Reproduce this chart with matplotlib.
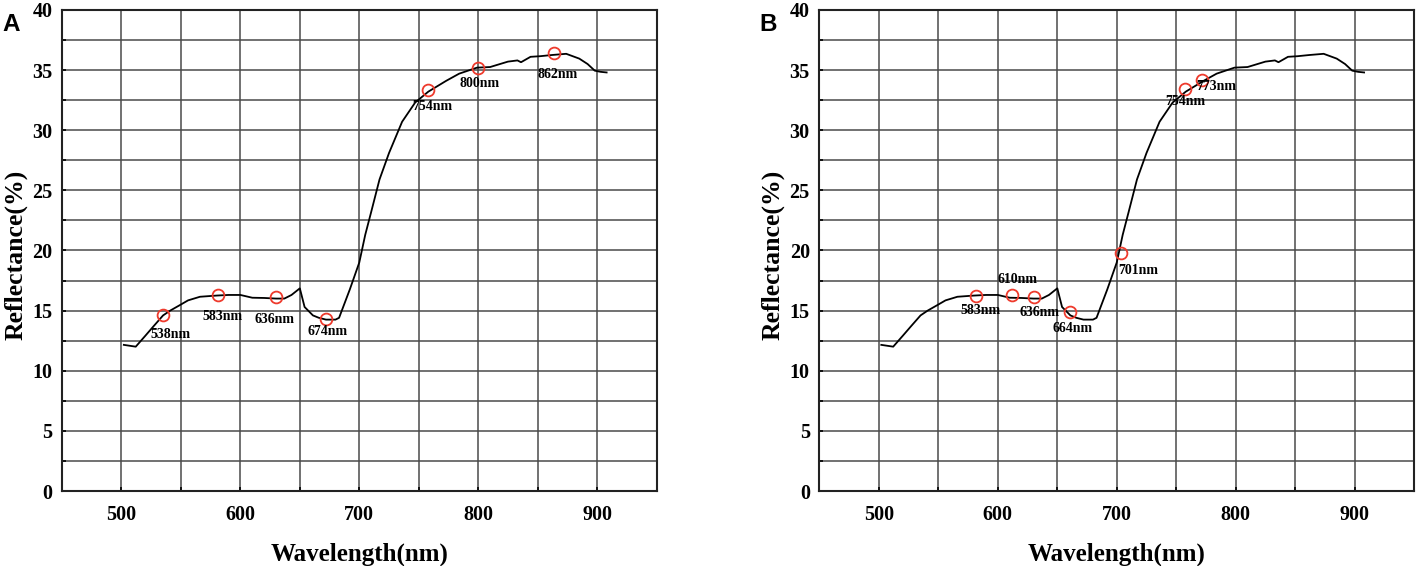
import numpy as np
import matplotlib
matplotlib.use("Agg")
import matplotlib.pyplot as plt
from matplotlib.ticker import MultipleLocator

# ====== DATA ======
wavelength = [502, 512, 520, 527, 535, 541, 549, 556, 566, 580, 590, 600, 610,
              620, 630, 637, 643, 650, 654, 661, 666, 672, 680, 683, 692, 700,
              705, 710, 717, 725, 736, 747, 758, 773, 784, 799, 810, 825, 833,
              836, 844, 852, 862, 874, 885, 892, 898, 903, 908]
reflectance = [12.15, 12.0, 12.9, 13.7, 14.6, 15.0, 15.45, 15.85, 16.15, 16.25,
               16.3, 16.3, 16.07, 16.05, 16.0, 16.0, 16.3, 16.85, 15.3, 14.6,
               14.4, 14.25, 14.25, 14.4, 16.75, 19.0, 21.3, 23.2, 25.9, 28.1,
               30.7, 32.3, 33.2, 34.1, 34.7, 35.2, 35.25, 35.7, 35.8, 35.65,
               36.1, 36.15, 36.25, 36.35, 35.95, 35.5, 34.95, 34.85, 34.8]

# panel A selected bands
a_mark_x = [535, 581, 630, 672, 757.5, 800, 864]
a_mark_y = [14.65, 16.3, 16.1, 14.3, 33.3, 35.2, 36.4]
a_labels = ["538nm", "583nm", "636nm", "674nm", "754nm", "800nm", "862nm"]
a_label_x = [541, 585, 629, 673, 761, 801, 867]
a_label_y = [13.0, 14.55, 14.25, 13.3, 32.0, 33.85, 34.6]

# panel B selected bands
b_mark_x = [581.7, 612, 630, 661, 703.6, 757.8, 771.6]
b_mark_y = [16.25, 16.3, 16.1, 14.9, 19.75, 33.4, 34.2]
b_labels = ["583nm", "610nm", "636nm", "664nm", "701nm", "754nm", "773nm"]
b_label_x = [585, 616.6, 635, 663, 717.7, 758, 784]
b_label_y = [15.0, 17.6, 14.85, 13.55, 18.3, 32.4, 33.6]

serif = ["Liberation Serif", "DejaVu Serif"]


def draw_panel(ax, mark_x, mark_y, labels, label_x, label_y, letter):
    ax.plot(wavelength, reflectance, color="black", lw=1.3, zorder=3)
    ax.plot(mark_x, mark_y, "o", mfc="none", mec="#ee3a2c", ms=8.5, mew=1.3, zorder=4)
    for t, lx, ly in zip(labels, label_x, label_y):
        ax.text(lx, ly, t, ha="center", va="center", fontsize=10,
                fontweight="bold", family=serif, zorder=5)

    ax.set_xlim(450, 950)
    ax.set_ylim(0, 40)
    ax.xaxis.set_major_locator(MultipleLocator(100))
    ax.xaxis.set_minor_locator(MultipleLocator(50))
    ax.yaxis.set_major_locator(MultipleLocator(5))
    ax.yaxis.set_minor_locator(MultipleLocator(2.5))
    ax.grid(True, which="both", color="#4a4a4a", lw=1.1, zorder=1)
    ax.tick_params(which="both", direction="in", length=3, width=1.2)
    ax.tick_params(axis="y", which="major", pad=7)
    ax.tick_params(axis="x", which="major", pad=10)
    for lab in ax.get_xticklabels() + ax.get_yticklabels():
        lab.set_family(serif)
        lab.set_fontweight("bold")
        lab.set_fontsize(14.5)
    for s in ax.spines.values():
        s.set_linewidth(1.5)
        s.set_color("#222222")
    ax.set_xlabel("Wavelength(nm)", family=serif, fontweight="bold", fontsize=18, labelpad=13)
    ax.set_ylabel("Reflectance(%)", family=serif, fontweight="bold", fontsize=18.5)
    ax.yaxis.set_label_coords(-0.058, 0.49)
    ax.text(-0.101, 0.993, letter, transform=ax.transAxes, fontsize=17.5,
            fontweight="bold", family="Liberation Sans", ha="left", va="top")


fig = plt.figure(figsize=(14.19, 5.66), dpi=100)
ax1 = fig.add_axes([0.0437, 0.1325, 0.419, 0.85])
ax2 = fig.add_axes([0.5775, 0.1325, 0.419, 0.85])

draw_panel(ax1, a_mark_x, a_mark_y, a_labels, a_label_x, a_label_y, "A")
draw_panel(ax2, b_mark_x, b_mark_y, b_labels, b_label_x, b_label_y, "B")

fig.savefig("out.png", dpi=100)
